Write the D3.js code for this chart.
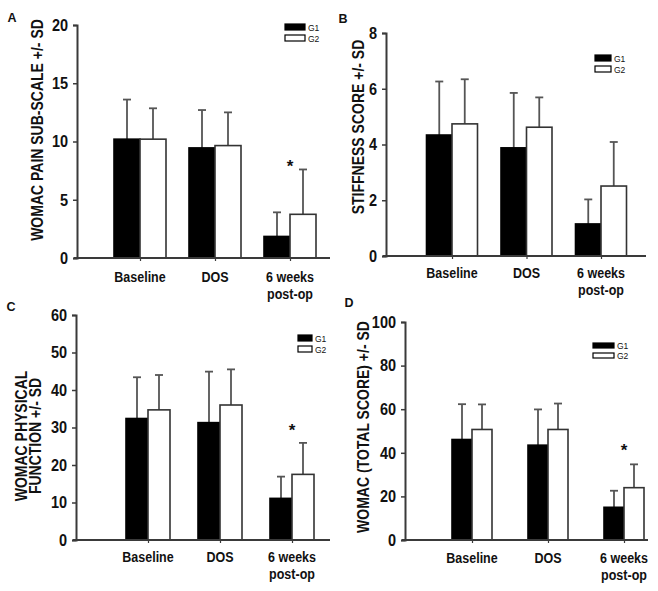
<!DOCTYPE html>
<html><head><meta charset="utf-8">
<script src="https://cdn.jsdelivr.net/npm/d3@7"></script>
<style>
body{margin:0;background:#fff;}
svg{display:block;font-family:"Liberation Sans",Arial,sans-serif;}
</style></head>
<body><svg id="chart" width="658" height="591"></svg>
<script>
// ---- data ----
const categories = ["Baseline", "DOS", "6 weeks post-op"];
const categoryLines = [["Baseline"], ["DOS"], ["6 weeks", "post-op"]];
const seriesNames = ["G1", "G2"];

const painG1 = [10.2, 9.45, 1.85];
const painG2 = [10.2, 9.65, 3.75];
const painSD1 = [3.4, 3.25, 2.07];
const painSD2 = [2.65, 2.85, 3.85];
const painTicks = [0, 5, 10, 15, 20];
const painStar = [null, null, 8.15];

const stiffG1 = [4.34, 3.88, 1.15];
const stiffG2 = [4.74, 4.62, 2.51];
const stiffSD1 = [1.92, 1.97, 0.88];
const stiffSD2 = [1.6, 1.07, 1.58];
const stiffTicks = [0, 2, 4, 6, 8];
const stiffStar = [null, null, null];

const physG1 = [32.4, 31.3, 11.1];
const physG2 = [34.7, 36.0, 17.5];
const physSD1 = [11.0, 13.6, 5.8];
const physSD2 = [9.3, 9.5, 8.4];
const physTicks = [0, 10, 20, 30, 40, 50, 60];
const physStar = [null, null, 30.1];

const totalG1 = [46.1, 43.5, 15.0];
const totalG2 = [50.7, 50.7, 24.0];
const totalSD1 = [16.2, 16.4, 7.6];
const totalSD2 = [11.5, 11.9, 10.7];
const totalTicks = [0, 20, 40, 60, 80, 100];
const totalStar = [null, null, 42.6];

const panelLetters = ["A", "B", "C", "D"];
const yTitles = [["WOMAC PAIN SUB-SCALE +/- SD"], ["STIFFNESS SCORE +/- SD"],
                 ["WOMAC PHYSICAL", "FUNCTION +/- SD"], ["WOMAC (TOTAL SCORE) +/- SD"]];

// ---- layout ----
const panels = [
  {g1: painG1, g2: painG2, sd1: painSD1, sd2: painSD2, ticks: painTicks, star: painStar,
   axisX: 77, y0: 258, y1: 25, xEnd: 330, c0: 140, c1: 290, barW: 26,
   letter: [12, 22], title: [37, 130], catY: 282,
   leg: {x: 285, y: 24, w: 20, h: 6, gap: 11}},
  {g1: stiffG1, g2: stiffG2, sd1: stiffSD1, sd2: stiffSD2, ticks: stiffTicks, star: stiffStar,
   axisX: 386, y0: 256, y1: 33, xEnd: 646, c0: 452, c1: 601, barW: 25.5,
   letter: [343, 23], title: [358, 127], catY: 278,
   leg: {x: 595, y: 55, w: 16, h: 6, gap: 11}},
  {g1: physG1, g2: physG2, sd1: physSD1, sd2: physSD2, ticks: physTicks, star: physStar,
   axisX: 76, y0: 540, y1: 315, xEnd: 330, c0: 148, c1: 292, barW: 22,
   letter: [11, 311], title: [28, 436], catY: 562,
   leg: {x: 298, y: 335, w: 14, h: 6, gap: 11}},
  {g1: totalG1, g2: totalG2, sd1: totalSD1, sd2: totalSD2, ticks: totalTicks, star: totalStar,
   axisX: 405, y0: 540, y1: 322, xEnd: 648, c0: 472, c1: 624, barW: 20,
   letter: [349, 307], title: [363, 427], catY: 563,
   leg: {x: 593, y: 343, w: 21, h: 5, gap: 10}}
];

const svg = d3.select("#chart");
const AXIS = "#3a3a3a", ERR = "#555";
const STRETCH = 1.15;

panels.forEach((p, i) => {
  const g = svg.append("g");
  const y = d3.scaleLinear().domain([p.ticks[0], p.ticks[p.ticks.length - 1]]).range([p.y0, p.y1]);
  const x = d3.scalePoint().domain(categories).range([p.c0, p.c1]);
  const xs = d3.scaleBand().domain(seriesNames).range([-p.barW, p.barW]).padding(0);

  const rows = [];
  categories.forEach((c, k) => {
    rows.push({c, s: "G1", v: p.g1[k], sd: p.sd1[k]});
    rows.push({c, s: "G2", v: p.g2[k], sd: p.sd2[k]});
  });

  // error bars (upper only)
  rows.forEach(r => {
    const cx = x(r.c) + xs(r.s) + xs.bandwidth() / 2;
    g.append("line").attr("x1", cx).attr("x2", cx).attr("y1", y(r.v)).attr("y2", y(r.v + r.sd))
      .attr("stroke", ERR).attr("stroke-width", 1.8);
    g.append("line").attr("x1", cx - 4).attr("x2", cx + 4).attr("y1", y(r.v + r.sd)).attr("y2", y(r.v + r.sd))
      .attr("stroke", ERR).attr("stroke-width", 1.8);
  });

  // bars
  g.selectAll("rect.bar").data(rows).join("rect").attr("class", "bar")
    .attr("x", r => x(r.c) + xs(r.s))
    .attr("width", xs.bandwidth())
    .attr("y", r => y(r.v))
    .attr("height", r => y(0) - y(r.v))
    .attr("fill", r => r.s === "G1" ? "#000" : "#fff")
    .attr("stroke", r => r.s === "G1" ? "#000" : "#333")
    .attr("stroke-width", 1.6);

  // y axis
  const ya = g.append("g").attr("transform", `translate(${p.axisX},0)`)
    .call(d3.axisLeft(y).tickValues(p.ticks).tickSize(4).tickPadding(5).tickFormat(d3.format("d")));
  ya.select(".domain").attr("stroke", AXIS).attr("stroke-width", 2);
  ya.selectAll(".tick line").attr("stroke", AXIS).attr("stroke-width", 1.5);
  ya.selectAll(".tick text").attr("font-size", 14.5).attr("font-weight", "bold")
    .attr("font-family", null).attr("fill", "#111")
    .attr("transform", `scale(1,${STRETCH})`);

  // x axis
  const xa = g.append("g").attr("transform", `translate(0,${p.y0})`)
    .call(d3.axisBottom(x).tickSize(3).tickFormat(""));
  xa.select(".domain").attr("d", `M${p.axisX - 3},0H${p.xEnd}`).attr("stroke", AXIS).attr("stroke-width", 2);
  xa.selectAll(".tick line").attr("stroke", AXIS).attr("stroke-width", 1.2);

  // category labels
  categories.forEach((c, k) => {
    const t = g.append("text").attr("transform", `translate(${x(c)},${p.catY}) scale(1,${STRETCH})`)
      .attr("text-anchor", "middle")
      .attr("font-size", 12.5).attr("font-weight", "bold").attr("fill", "#111");
    categoryLines[k].forEach((ln, j) => {
      t.append("tspan").attr("x", 0).attr("y", j * 15).text(ln);
    });
  });

  // stars
  p.star.forEach((s, k) => {
    if (s == null) return;
    g.append("text").attr("x", x(categories[k])).attr("y", y(s) + 9).attr("text-anchor", "middle")
      .attr("font-size", 17).attr("font-weight", "bold").attr("fill", "#111").text("*");
  });

  // y title
  const lines = yTitles[i];
  const tt = g.append("text")
    .attr("transform", `translate(${p.title[0]},${p.title[1]}) rotate(-90) scale(1,${STRETCH})`)
    .attr("text-anchor", "middle").attr("font-size", 14).attr("font-weight", "bold").attr("fill", "#111");
  lines.forEach((ln, j) => {
    tt.append("tspan").attr("x", 0).attr("y", (j - (lines.length - 1) / 2) * 12.5 + 5).text(ln);
  });

  // panel letter
  g.append("text").attr("x", p.letter[0]).attr("y", p.letter[1]).attr("text-anchor", "middle")
    .attr("font-size", 12.5).attr("font-weight", "bold").attr("fill", "#111").text(panelLetters[i]);

  // legend
  seriesNames.forEach((s, j) => {
    const ly = p.leg.y + j * p.leg.gap;
    g.append("rect").attr("x", p.leg.x).attr("y", ly).attr("width", p.leg.w).attr("height", p.leg.h)
      .attr("fill", j === 0 ? "#000" : "#fff").attr("stroke", "#000").attr("stroke-width", 1.2);
    g.append("text").attr("x", p.leg.x + p.leg.w + 3).attr("y", ly + p.leg.h + 1)
      .attr("font-size", 8.5).attr("fill", "#111").text(s);
  });
});
</script></body></html>
